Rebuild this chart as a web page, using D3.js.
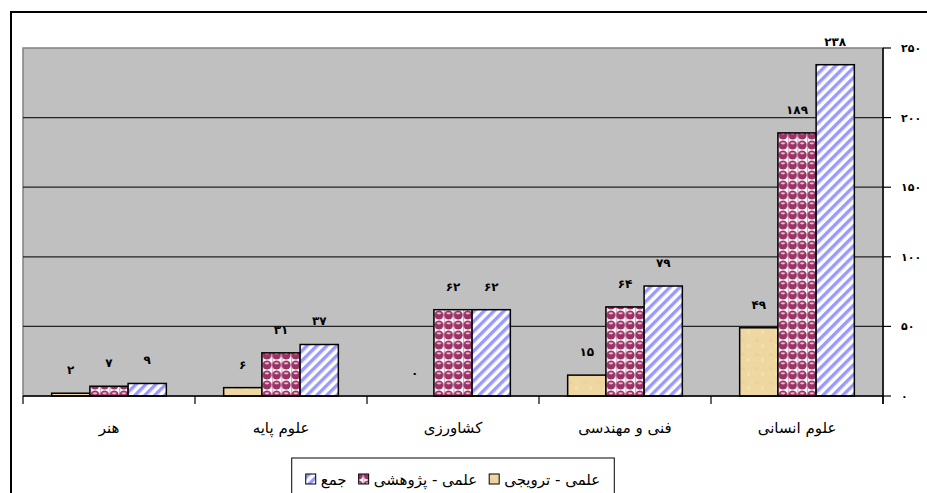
<!DOCTYPE html>
<html>
<head>
<meta charset="utf-8">
<script src="https://cdn.jsdelivr.net/npm/d3@7/dist/d3.min.js"></script>
<style>
  html, body { margin: 0; padding: 0; background: #fff; overflow: hidden; }
  #wrap { position: relative; width: 927px; height: 493px; }
  #frame { position: absolute; left: 10px; top: 11px; width: 940px; height: 520px;
           border-left: 2px solid #000; border-top: 2px solid #000; box-sizing: border-box; }
  svg { display: block; position: absolute; left: 0; top: 0; }
</style>
</head>
<body>
<div id="wrap">
<div id="frame"></div>
<svg id="chart" width="927" height="493" viewBox="0 0 927 493"></svg>
</div>
<script>
// ---- data ----
const categories = ["هنر", "علوم پایه", "کشاورزی", "فنی و مهندسی", "علوم انسانی"];
const seriesNames = ["علمی - ترویجی", "علمی - پژوهشی", "جمع"];
const tarviji = [2, 6, 0, 15, 49];
const pazhuheshi = [7, 31, 62, 64, 189];
const jam = [9, 37, 62, 79, 238];
const yTicks = [0, 50, 100, 150, 200, 250];
const legendOrder = ["جمع", "علمی - پژوهشی", "علمی - ترویجی"];

const seriesValues = [tarviji, pazhuheshi, jam];
const fa = n => String(n).replace(/\d/g, d => "۰۱۲۳۴۵۶۷۸۹"[d]);

// ---- layout ----
const svg = d3.select("#chart");
const plot = { left: 23, right: 883, top: 48, bottom: 396 };
const FONT = "'DejaVu Sans', sans-serif";

const defs = svg.append("defs");
// tan parchment texture
const pTan = defs.append("pattern").attr("id", "pTan").attr("patternUnits", "userSpaceOnUse")
  .attr("width", 14).attr("height", 14);
pTan.append("rect").attr("width", 14).attr("height", 14).attr("fill", "#eed7a0");
pTan.append("rect").attr("x", 2).attr("y", 3).attr("width", 4).attr("height", 3).attr("fill", "#ead29a");
pTan.append("rect").attr("x", 8).attr("y", 8).attr("width", 3).attr("height", 4).attr("fill", "#f2dfae");
// maroon sphere pattern
const pSph = defs.append("pattern").attr("id", "pSph").attr("patternUnits", "userSpaceOnUse")
  .attr("width", 9.6).attr("height", 10);
pSph.append("rect").attr("width", 9.6).attr("height", 10).attr("fill", "#ffffff");
pSph.append("circle").attr("cx", 4.8).attr("cy", 5).attr("r", 4.5).attr("fill", "#993366");
pSph.append("ellipse").attr("cx", 4.8).attr("cy", 3.3).attr("rx", 2.2).attr("ry", 1.1).attr("fill", "#e9b7cf");
pSph.append("rect").attr("x", 0).attr("y", 0).attr("width", 1.2).attr("height", 10).attr("fill", "#b04c7d").attr("opacity", 0.5);
// blue diagonal stripes
const pStr = defs.append("pattern").attr("id", "pStr").attr("patternUnits", "userSpaceOnUse")
  .attr("width", 7).attr("height", 7).attr("patternTransform", "rotate(45)");
pStr.append("rect").attr("width", 7).attr("height", 7).attr("fill", "#ffffff");
pStr.append("rect").attr("width", 3.4).attr("height", 7).attr("fill", "#9999ff");

const fills = ["url(#pTan)", "url(#pSph)", "url(#pStr)"];

// outer frame (top and left edges visible)
svg.append("path").attr("d", "M11,493 V12 H927")
  .attr("fill", "none").attr("stroke", "#000").attr("stroke-width", 2);

// scales
const x0 = d3.scaleBand().domain(categories).range([plot.left, plot.right]).padding(0);
const x1 = d3.scaleBand().domain(d3.range(seriesNames.length)).range([0, x0.bandwidth()])
  .paddingInner(0).paddingOuter(0.75);
const y = d3.scaleLinear().domain([0, 250]).range([plot.bottom, plot.top]);

// plot area
svg.append("rect").attr("x", plot.left).attr("y", plot.top)
  .attr("width", plot.right - plot.left).attr("height", plot.bottom - plot.top)
  .attr("fill", "#c0c0c0").attr("stroke", "#808080").attr("stroke-width", 1.5);

// gridlines
svg.append("g").selectAll("line").data(yTicks.filter(t => t > 0 && t < 250)).join("line")
  .attr("x1", plot.left).attr("x2", plot.right)
  .attr("y1", d => y(d)).attr("y2", d => y(d))
  .attr("stroke", "#222").attr("stroke-width", 1.2);

// bars
const groups = svg.append("g").selectAll("g").data(categories).join("g")
  .attr("transform", c => `translate(${x0(c)},0)`);
groups.selectAll("rect").data((c, ci) => seriesValues.map((s, si) => ({ si, v: s[ci] })))
  .join("rect")
  .filter(d => d.v > 0)
  .attr("x", d => x1(d.si)).attr("width", x1.bandwidth())
  .attr("y", d => y(d.v)).attr("height", d => y(0) - y(d.v))
  .attr("fill", d => fills[d.si]).attr("stroke", "#000").attr("stroke-width", 1.5);

// data labels
groups.selectAll("text").data((c, ci) => seriesValues.map((s, si) => ({ si, v: s[ci] })))
  .join("text")
  .attr("x", d => x1(d.si) + x1.bandwidth() / 2)
  .attr("y", d => y(d.v) - 19)
  .attr("text-anchor", "middle")
  .attr("font-family", FONT).attr("font-size", 12).attr("font-weight", "bold")
  .attr("fill", "#000")
  .text(d => fa(d.v));

// x axis line + ticks
svg.append("line").attr("x1", plot.left).attr("x2", plot.right)
  .attr("y1", plot.bottom).attr("y2", plot.bottom).attr("stroke", "#000").attr("stroke-width", 1.5);
const bounds = categories.map(c => x0(c)).concat([plot.right]);
svg.append("g").selectAll("line").data(bounds).join("line")
  .attr("x1", d => d).attr("x2", d => d)
  .attr("y1", plot.bottom).attr("y2", plot.bottom + 8)
  .attr("stroke", "#000").attr("stroke-width", 1.2);
svg.append("g").selectAll("text").data(categories).join("text")
  .attr("x", c => x0(c) + x0.bandwidth() / 2).attr("y", 433)
  .attr("text-anchor", "middle")
  .attr("font-family", FONT).attr("font-size", 15).attr("fill", "#000")
  .text(c => c);

// right y axis
svg.append("line").attr("x1", plot.right).attr("x2", plot.right)
  .attr("y1", plot.top).attr("y2", plot.bottom + 8).attr("stroke", "#000").attr("stroke-width", 1.5);
svg.append("g").selectAll("line").data(yTicks).join("line")
  .attr("x1", plot.right).attr("x2", plot.right + 8)
  .attr("y1", d => y(d)).attr("y2", d => y(d))
  .attr("stroke", "#000").attr("stroke-width", 1.2);
svg.append("g").selectAll("text").data(yTicks).join("text")
  .attr("x", 901).attr("y", d => y(d) + 4)
  .attr("text-anchor", "start")
  .attr("font-family", FONT).attr("font-size", 11).attr("font-weight", "bold").attr("fill", "#000")
  .text(d => fa(d));

// legend
const lg = svg.append("g");
const legendBox = lg.append("rect").attr("y", 458).attr("height", 60)
  .attr("fill", "#fff").attr("stroke", "#000").attr("stroke-width", 1);
let cx = 0;
const items = [];
legendOrder.forEach(name => {
  const si = seriesNames.indexOf(name);
  const g = lg.append("g");
  g.append("rect").attr("x", cx).attr("y", 474).attr("width", 10).attr("height", 10)
    .attr("fill", fills[si]).attr("stroke", "#000").attr("stroke-width", 1);
  const t = g.append("text").attr("x", cx + 15).attr("y", 485)
    .attr("font-family", FONT).attr("font-size", 15).attr("fill", "#000").text(name);
  const w = t.node().getComputedTextLength();
  cx += 15 + w + 12;
  items.push(g);
});
const contentW = cx - 12;
const centerX = (plot.left + plot.right) / 2;
const startX = centerX - contentW / 2;
items.forEach(g => g.attr("transform", `translate(${startX},0)`));
legendBox.attr("x", startX - 14).attr("width", contentW + 28);
</script>
</body>
</html>
